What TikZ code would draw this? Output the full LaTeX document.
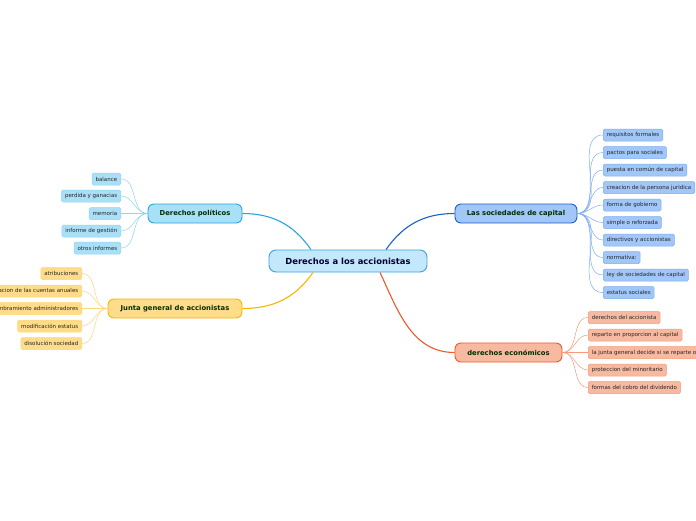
\documentclass[tikz,border=0pt]{standalone}
\usepackage{fontspec}
\setmainfont{DejaVu Sans}
\begin{document}
\begin{tikzpicture}[x=1pt,y=-1pt,
  mainbox/.style={draw=#1, line width=0.9pt, rounded corners=7pt, minimum height=22pt, inner xsep=10pt, font=\fontsize{8.4}{9}\selectfont\bfseries, text=black!80!blue},
  branch/.style={draw=#1, line width=0.9pt, rounded corners=6pt, minimum height=19pt, inner xsep=8pt, font=\fontsize{6.8}{7}\selectfont\bfseries, text=black!70!green!60!black},
  leaf/.style={draw=#1, line width=0.5pt, rounded corners=1.5pt, minimum height=12pt, inner xsep=3.5pt, inner ysep=0pt, font=\fontsize{5.5}{6}\selectfont, text=black!85},
  mlink/.style={line width=1.1pt, draw=#1},
  llink/.style={line width=0.5pt, draw=#1}]
\useasboundingbox (0,0) rectangle (696,520);
\clip (0,0) rectangle (696,520);
\fill[white] (0,0) rectangle (696,520);
\definecolor{cmain}{HTML}{C4E8FB}
\definecolor{bmain}{HTML}{3BA3D8}
\definecolor{cpol}{HTML}{A9E0F8}
\definecolor{bpol}{HTML}{27A7E0}
\definecolor{lpol}{HTML}{8FD5F5}
\definecolor{cjun}{HTML}{FFDC8A}
\definecolor{bjun}{HTML}{F5B700}
\definecolor{ljun}{HTML}{FFD67A}
\definecolor{csoc}{HTML}{A1C6F8}
\definecolor{bsoc}{HTML}{1A60C6}
\definecolor{lsoc}{HTML}{7FAEF0}
\definecolor{ceco}{HTML}{F8B9A1}
\definecolor{beco}{HTML}{F0582A}
\definecolor{leco}{HTML}{F59A7A}

\node[mainbox=bmain, fill=cmain, minimum width=158pt] (root) at (348,261) {Derechos a los accionistas};

\node[branch=bpol, fill=cpol, minimum width=94pt] (pol) at (195,213.5) {Derechos políticos};
\node[branch=bjun, fill=cjun, minimum width=134pt] (jun) at (175,308.5) {Junta general de accionistas};
\node[branch=bsoc, fill=csoc, minimum width=122pt] (soc) at (516,213.5) {Las sociedades de capital};
\node[branch=beco, fill=ceco, minimum width=107pt] (eco) at (508.5,352.5) {derechos económicos};

\draw[mlink=bpol] (pol.east) to[out=0,in=125] (root.north west -| 311,250);
\draw[mlink=bsoc] (soc.west) to[out=180,in=55] (root.north east -| 386,250);
\draw[mlink=bjun] (jun.east) to[out=0,in=-125] (root.south west -| 313,272);
\draw[mlink=beco] (eco.west) to[out=180,in=-65] (root.south east -| 380,272);

% Derechos politicos leaves
\foreach \n/\y/\t in {p1/179/balance, p2/196/perdida y ganacias, p3/213.5/memoria, p4/231/informe de gestión, p5/248/otros informes}{
  \node[leaf=lpol, fill=cpol, anchor=east] (\n) at (121,\y) {\t};
  \draw[llink=lpol] (pol.west) to[out=180,in=0] (\n.east);
}
% Junta leaves
\foreach \n/\y/\t in {j1/273.5/atribuciones, j2/291/aprobacion de las cuentas anuales, j3/308.5/nombramiento administradores, j4/326/modificación estatus, j5/343.5/disolución sociedad}{
  \node[leaf=ljun, fill=cjun, anchor=east] (\n) at (82,\y) {\t};
  \draw[llink=ljun] (jun.west) to[out=180,in=0] (\n.east);
}
% Sociedades leaves
\foreach \n/\y/\t in {s1/135/requisitos formales, s2/152.5/pactos para sociales, s3/170/puesta en común de capital, s4/187.5/creacion de la persona juridica, s5/205/forma de gobierno, s6/222.5/simple o reforzada, s7/240/directivos y accionistas, s8/257.5/normativa:, s9/275/ley de sociedades de capital, s10/292.5/estatus sociales}{
  \node[leaf=lsoc, fill=csoc, anchor=west] (\n) at (603,\y) {\t};
  \draw[llink=lsoc] (soc.east) to[out=0,in=180] (\n.west);
}
% Economicos leaves
\foreach \n/\y/\t in {e1/317.5/derechos del accionista, e2/335/reparto en proporcion al capital, e3/352.5/la junta general decide si se reparte o no, e4/370/proteccion del minoritario, e5/387.5/formas del cobro del dividendo}{
  \node[leaf=leco, fill=ceco, anchor=west] (\n) at (588,\y) {\t};
  \draw[llink=leco] (eco.east) to[out=0,in=180] (\n.west);
}
\end{tikzpicture}
\end{document}
